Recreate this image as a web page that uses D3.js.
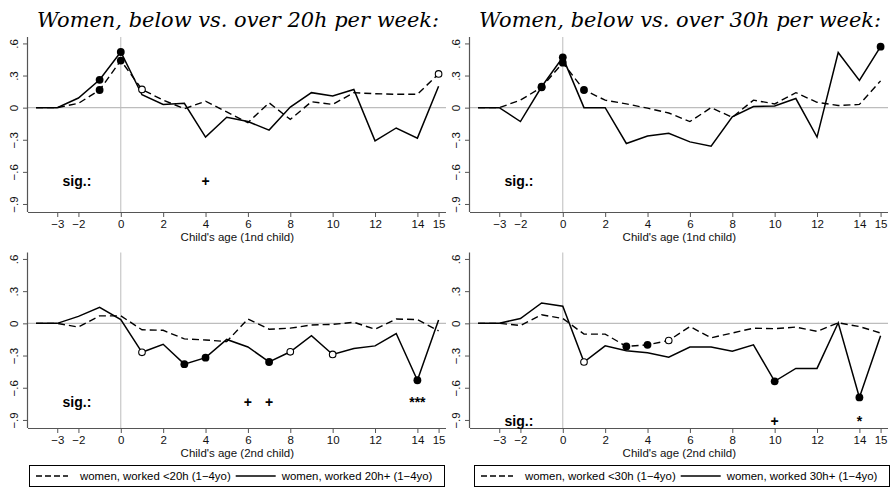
<!DOCTYPE html>
<html><head><meta charset="utf-8">
<script src="https://cdn.jsdelivr.net/npm/d3@7"></script>
<style>body{margin:0;background:#fff}</style>
</head><body><svg id="c" width="892" height="488"></svg>
<script>
// ---------- data ----------
const ages = [-4,-3,-2,-1,0,1,2,3,4,5,6,7,8,9,10,11,12,13,14,15];
const xTicks = [-3,-2,0,2,4,6,8,10,12,14,15];
const yTicks = [0.6,0.3,0,-0.3,-0.6,-0.9];
const yTickLabels = [".6",".3","0","−.3","−.6","−.9"];
const titles = ["Women, below vs. over 20h per week:", "Women, below vs. over 30h per week:"];
const axisTitles = ["Child's age (1nd child)", "Child's age (1nd child)", "Child's age (2nd child)", "Child's age (2nd child)"];
const legend20 = ["women, worked <20h (1−4yo)", "women, worked 20h+ (1−4yo)"];
const legend30 = ["women, worked <30h (1−4yo)", "women, worked 30h+ (1−4yo)"];

// panel 1: 20h, 1st child
const below20First = [0,0,0.04,0.165,0.44,0.17,0.07,-0.01,0.06,-0.04,-0.14,0.045,-0.11,0.055,0.03,0.14,0.13,0.125,0.125,0.315];
const over20First  = [0,0,0.09,0.26,0.52,0.12,0.03,0.04,-0.275,-0.09,-0.13,-0.21,0.005,0.14,0.11,0.17,-0.31,-0.19,-0.285,0.2];
const below20FirstFilled = [-1,0], below20FirstHollow = [1,15];
const over20FirstFilled = [-1,0],  over20FirstHollow = [];
const sig20First = [{age:4, mark:"+"}];
const sigLevel20First = -0.69;

// panel 2: 30h, 1st child
const below30First = [0,0,0.07,0.19,0.42,0.165,0.07,0.035,-0.005,-0.05,-0.13,0,-0.09,0.07,0.035,0.14,0.05,0.02,0.03,0.25];
const over30First  = [0,0,-0.13,0.195,0.47,0,0,-0.335,-0.265,-0.24,-0.32,-0.36,-0.085,0.01,0.015,0.085,-0.275,0.515,0.255,0.57];
const below30FirstFilled = [-1,0,1], below30FirstHollow = [];
const over30FirstFilled = [-1,0,15], over30FirstHollow = [];
const sig30First = [];
const sigLevel30First = -0.69;

// panel 3: 20h, 2nd child
const below20Second = [0,0,-0.035,0.07,0.07,-0.06,-0.065,-0.145,-0.155,-0.17,0.04,-0.055,-0.045,-0.015,-0.01,0.01,-0.055,0.04,0.035,-0.07];
const over20Second  = [0,0,0.065,0.15,0.035,-0.27,-0.195,-0.38,-0.32,-0.15,-0.22,-0.36,-0.265,-0.115,-0.29,-0.235,-0.21,-0.095,-0.53,0.03];
const below20SecondFilled = [], below20SecondHollow = [];
const over20SecondFilled = [3,4,7,14], over20SecondHollow = [1,8,10];
const sig20Second = [{age:6, mark:"+"},{age:7, mark:"+"},{age:14, mark:"***"}];
const sigLevel20Second = -0.73;

// panel 4: 30h, 2nd child
const below30Second = [0,0,-0.02,0.08,0.045,-0.1,-0.1,-0.215,-0.2,-0.16,-0.03,-0.135,-0.09,-0.045,-0.05,-0.035,-0.075,0.005,-0.03,-0.09];
const over30Second  = [0,0,0.045,0.19,0.16,-0.36,-0.21,-0.255,-0.275,-0.315,-0.22,-0.22,-0.26,-0.2,-0.54,-0.42,-0.42,0.005,-0.69,-0.115];
const below30SecondFilled = [3,4], below30SecondHollow = [5];
const over30SecondFilled = [10,14], over30SecondHollow = [1];
const sig30Second = [{age:10, mark:"+"},{age:14, mark:"*"}];
const sigLevel30Second = -0.91;

// ---------- drawing ----------
const svg = d3.select("#c");
const FONT = "'Liberation Sans', Arial, sans-serif";

const panels = [
  {x0:28, yB:212, yT:37, below:below20First, over:over20First, bF:below20FirstFilled, bH:below20FirstHollow, oF:over20FirstFilled, oH:over20FirstHollow, sig:sig20First, lvl:sigLevel20First, at:axisTitles[0]},
  {x0:470, yB:212, yT:37, below:below30First, over:over30First, bF:below30FirstFilled, bH:below30FirstHollow, oF:over30FirstFilled, oH:over30FirstHollow, sig:sig30First, lvl:sigLevel30First, at:axisTitles[1]},
  {x0:28, yB:428, yT:252.5, below:below20Second, over:over20Second, bF:below20SecondFilled, bH:below20SecondHollow, oF:over20SecondFilled, oH:over20SecondHollow, sig:sig20Second, lvl:sigLevel20Second, at:axisTitles[2]},
  {x0:470, yB:428, yT:252.5, below:below30Second, over:over30Second, bF:below30SecondFilled, bH:below30SecondHollow, oF:over30SecondFilled, oH:over30SecondHollow, sig:sig30Second, lvl:sigLevel30Second, at:axisTitles[3]}
];

panels.forEach(p => {
  const x = d3.scaleLinear().domain([-4.38, 15.35]).range([p.x0, p.x0 + 418]);
  const y = d3.scaleLinear().domain([-0.975, 0.66]).range([p.yB, p.yT]);
  const g = svg.append("g");

  // reference lines
  g.append("line").attr("x1", x.range()[0]).attr("x2", x.range()[1])
    .attr("y1", y(0)).attr("y2", y(0)).attr("stroke", "#bdbdbd").attr("stroke-width", 1.2);
  g.append("line").attr("x1", x(0)).attr("x2", x(0))
    .attr("y1", p.yT).attr("y2", p.yB).attr("stroke", "#bdbdbd").attr("stroke-width", 1);

  // y axis
  const ya = g.append("g").attr("transform", `translate(${p.x0},0)`)
    .call(d3.axisLeft(y).tickValues(yTicks).tickSize(5).tickFormat((d,i) => yTickLabels[i]));
  ya.select(".domain").attr("stroke", "#555").attr("stroke-width", 1.2).attr("d", `M-0.5,${p.yT}V${p.yB}`);
  ya.selectAll(".tick line").attr("stroke", "#555");
  ya.selectAll(".tick text").attr("font-family", FONT).attr("font-size", 11.5).attr("fill", "#111")
    .attr("x", 0).attr("dy", 0).attr("text-anchor", "middle")
    .attr("transform", "translate(-14,0) rotate(-90)").attr("dominant-baseline", "central");

  // x axis
  const xa = g.append("g").attr("transform", `translate(0,${p.yB})`)
    .call(d3.axisBottom(x).tickValues(xTicks).tickSize(5).tickFormat(d => d < 0 ? "−" + Math.abs(d) : String(d)));
  xa.select(".domain").attr("stroke", "#555").attr("stroke-width", 1.2).attr("d", `M${p.x0},0.5H${p.x0+418}`);
  xa.selectAll(".tick line").attr("stroke", "#555");
  xa.selectAll(".tick text").attr("font-family", FONT).attr("font-size", 11.5).attr("fill", "#111").attr("y", 8);

  g.append("text").attr("x", x(5.5)).attr("y", p.yB + 29).attr("text-anchor", "middle")
    .attr("font-family", FONT).attr("font-size", 11.5).attr("fill", "#111").text(p.at);

  // lines
  const line = d3.line().x((d, i) => x(ages[i])).y(d => y(d));
  g.append("path").datum(p.below).attr("d", line).attr("fill", "none")
    .attr("stroke", "#000").attr("stroke-width", 1.4).attr("stroke-dasharray", "7,4");
  g.append("path").datum(p.over).attr("d", line).attr("fill", "none")
    .attr("stroke", "#000").attr("stroke-width", 1.5);

  // markers
  const val = (arr, a) => arr[ages.indexOf(a)];
  const addMarkers = (arr, filled, hollow) => {
    g.selectAll(null).data(hollow).enter().append("circle")
      .attr("cx", a => x(a)).attr("cy", a => y(val(arr, a))).attr("r", 3.3)
      .attr("fill", "#fff").attr("stroke", "#000").attr("stroke-width", 1.1);
    g.selectAll(null).data(filled).enter().append("circle")
      .attr("cx", a => x(a)).attr("cy", a => y(val(arr, a))).attr("r", 3.9)
      .attr("fill", "#000");
  };
  addMarkers(p.below, p.bF, p.bH);
  addMarkers(p.over, p.oF, p.oH);

  // significance row
  g.append("text").attr("x", x(-2.75)).attr("y", y(p.lvl) + 5)
    .attr("font-family", FONT).attr("font-size", 14).attr("font-weight", "bold").attr("fill", "#000").text("sig.:");
  g.selectAll(null).data(p.sig).enter().append("text")
    .attr("x", d => x(d.age)).attr("y", y(p.lvl) + 5).attr("text-anchor", "middle")
    .attr("font-family", FONT).attr("font-size", 14).attr("font-weight", "bold").attr("fill", "#000")
    .text(d => d.mark);
});

// titles
[[37, titles[0]], [479, titles[1]]].forEach(([tx, t]) => {
  svg.append("text").attr("x", tx).attr("y", 27)
    .attr("font-family", "'DejaVu Serif', serif").attr("font-style", "italic")
    .attr("font-size", 20).attr("fill", "#000")
    .attr("textLength", 402).attr("lengthAdjust", "spacingAndGlyphs").text(t);
});

// legends
[[29, legend20], [474, legend30]].forEach(([bx, labels]) => {
  const lg = svg.append("g");
  const by = 465, bh = 21, bw = 415;
  lg.append("rect").attr("x", bx + 0.5).attr("y", by + 0.5).attr("width", bw).attr("height", bh)
    .attr("fill", "#fff").attr("stroke", "#000").attr("stroke-width", 1);
  const cy = by + bh / 2 + 0.5;
  let cx = bx + 7;
  labels.forEach((lab, i) => {
    const len = i === 0 ? 32 : 40;
    const gap = i === 0 ? 12 : 6;
    lg.append("line").attr("x1", cx).attr("x2", cx + len).attr("y1", cy).attr("y2", cy)
      .attr("stroke", "#000").attr("stroke-width", 1.4).attr("stroke-dasharray", i === 0 ? "6,3" : null);
    const t = lg.append("text").attr("x", cx + len + gap).attr("y", cy + 4)
      .attr("font-family", FONT).attr("font-size", 11.4).attr("fill", "#000").text(lab);
    cx = cx + len + gap + t.node().getComputedTextLength() + 5;
  });
});
</script>
</body></html>
